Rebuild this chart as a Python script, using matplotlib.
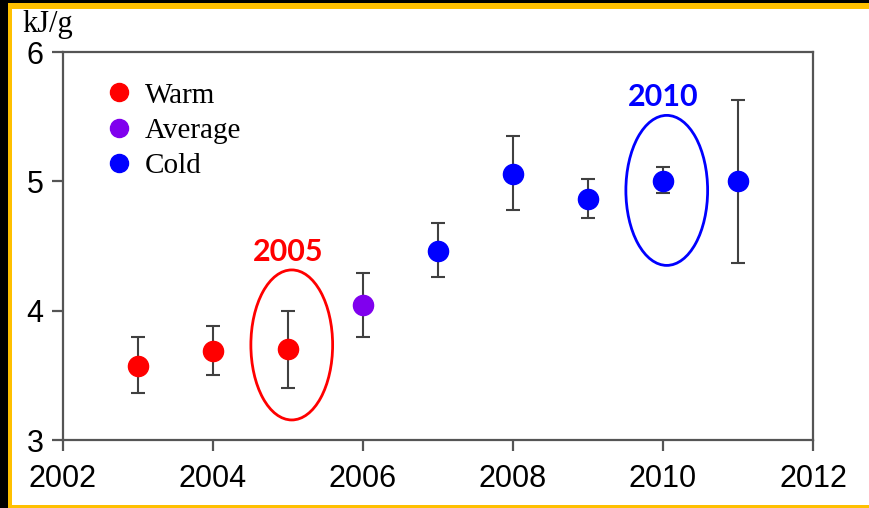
import matplotlib.pyplot as plt
from matplotlib.patches import Ellipse, Rectangle
from matplotlib.lines import Line2D

# energy density per year, with error bar ends
years = [2003, 2004, 2005, 2006, 2007, 2008, 2009, 2010, 2011]
energy = [3.57, 3.69, 3.70, 4.04, 4.46, 5.06, 4.86, 5.00, 5.00]
err_low = [3.36, 3.50, 3.40, 3.80, 4.26, 4.78, 4.72, 4.91, 4.37]
err_high = [3.80, 3.88, 4.00, 4.29, 4.68, 5.35, 5.02, 5.11, 5.63]
condition = ['Warm', 'Warm', 'Warm', 'Average', 'Cold', 'Cold', 'Cold', 'Cold', 'Cold']

cond_names = ['Warm', 'Average', 'Cold']
cond_colors = {'Warm': '#ff0000', 'Average': '#8000ee', 'Cold': '#0000ff'}

# circled years and the vertical centre of each ring
highlight_years = [2005, 2010]
highlight_centre = [3.735, 4.93]
highlight_colors = ['#ff0000', '#0000ff']

W, H = 870, 508
fig = plt.figure(figsize=(W / 100, H / 100), dpi=100)
fig.patch.set_facecolor('white')

def px_rect(x0, y0, x1, y1, color):
    # rectangle in pixel coords measured from the top-left corner
    fig.add_artist(Rectangle((x0 / W, 1 - y1 / H), (x1 - x0) / W, (y1 - y0) / H,
                             transform=fig.transFigure, facecolor=color,
                             edgecolor='none', zorder=0))

# white page, black border, orange frame
px_rect(0, 0, W, H, 'white')
px_rect(0, 0, W, 3, 'black')
px_rect(0, 0, 8, H, 'black')
px_rect(8, 3, W, 9, '#ffc000')
px_rect(8, 3, 12, H, '#ffc000')
px_rect(8, 505, W, H, '#ffc000')

ax = fig.add_axes([63 / W, (H - 440) / H, 750 / W, 388 / H])
ax.set_facecolor('white')
ax.set_xlim(2002, 2012)
ax.set_ylim(3, 6)
ax.set_xticks([2002, 2004, 2006, 2008, 2010, 2012])
ax.set_yticks([3, 4, 5, 6])

spine_col = '#555555'
for s in ax.spines.values():
    s.set_color(spine_col)
    s.set_linewidth(1.6)
ax.tick_params(direction='out', length=8, width=1.6, color=spine_col,
               labelsize=22, labelcolor='black')
ax.tick_params(axis='x', pad=9)
ax.tick_params(axis='y', pad=6)
for lab in ax.get_xticklabels() + ax.get_yticklabels():
    lab.set_fontfamily('Liberation Sans')

lower = [e - lo for e, lo in zip(energy, err_low)]
upper = [hi - e for e, hi in zip(energy, err_high)]
ax.errorbar(years, energy, yerr=[lower, upper], fmt='none', ecolor='#404040',
            elinewidth=1.5, capsize=5, capthick=1.5, zorder=2)
for c in cond_names:
    xs = [y for y, k in zip(years, condition) if k == c]
    vs = [v for v, k in zip(energy, condition) if k == c]
    ax.plot(xs, vs, 'o', color=cond_colors[c], markersize=14.5, zorder=3)

for yr, yc, col in zip(highlight_years, highlight_centre, highlight_colors):
    ax.add_patch(Ellipse((yr + 0.05, yc), 1.09, 1.16, fill=False, edgecolor=col,
                         linewidth=2, zorder=4))
    ax.text(yr, yc + 0.61, str(yr), color=col, fontsize=22, fontweight='bold',
            family='Lato', ha='center', va='bottom')

handles = [Line2D([], [], marker='o', linestyle='none', color=cond_colors[c],
                  markersize=13) for c in cond_names]
ax.legend(handles, cond_names, loc='upper left', bbox_to_anchor=(0.02, 0.952),
          frameon=False, handletextpad=-0.1, labelspacing=0.3, borderaxespad=0,
          prop={'family': 'Liberation Serif', 'size': 21})

fig.text(22 / W, 1 - 10 / H, 'kJ/g', family='Liberation Serif', fontsize=22,
         ha='left', va='top')

fig.savefig('out.png', dpi=100, facecolor='white')
